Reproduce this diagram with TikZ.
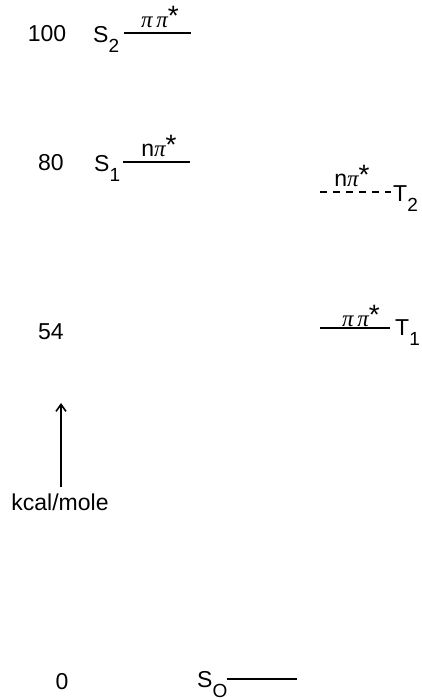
\documentclass[tikz,border=0pt]{standalone}
\usepackage{fontspec}
\setmainfont{Liberation Sans}
\newfontfamily\grkfont{Liberation Serif}
\usetikzlibrary{arrows.meta}

% state symbol with a lowered subscript
\newcommand{\stsym}[2]{#1\raisebox{-10pt}{\fontsize{19}{19}\selectfont #2}}
% italic pi and raised star for orbital labels
\newcommand{\pigr}{{\grkfont\itshape π}}
\newcommand{\excstar}{\raisebox{2pt}{\fontsize{28}{28}\selectfont *}}

\tikzset{
  lbl/.style={inner sep=0pt, font=\fontsize{23}{27}\selectfont},
  energy/.style={lbl, anchor=base},
  state/.style={lbl, anchor=base west},
  orb/.style={lbl, anchor=base},
  level/.style={line width=1.8pt},
  tripdash/.style={level, dash pattern=on 7pt off 6pt},
  axisarrow/.style={line width=1.6pt, -{Straight Barb[length=7pt,width=10pt,line width=1.6pt]}}
}

\begin{document}
\begin{tikzpicture}[x=1pt,y=-1pt]
\useasboundingbox (0,0) rectangle (422,700);

% energy scale (kcal/mole)
\node[energy] (e100) at (47,42) {100};
\node[energy] (e80)  at (51,171) {80};
\node[energy] (e54)  at (51,339) {54};
\node[energy] (e0)   at (62,689) {0};

% axis arrow and unit
\coordinate (axbot) at (61,487);
\coordinate (axtop) at (61,403);
\draw[axisarrow] (axbot) -- (axtop);
\node[lbl, anchor=base] (unit) at (60,510) {kcal/mole};

% singlet levels
\node[state] (S2) at (93,43) {\stsym{S}{2}};
\draw[level] (124,33) coordinate (s2a) -- (191,33) coordinate (s2b);
\node[orb] (o2) at (160,28) {\pigr\,\pigr\excstar};

\node[state] (S1) at (94,172) {\stsym{S}{1}};
\draw[level] (123,162) coordinate (s1a) -- (190,162) coordinate (s1b);
\node[orb] (o1) at (159,157) {n\pigr\excstar};

\node[state] (S0) at (197,687) {\stsym{S}{O}};
\draw[level] (227,679) coordinate (s0a) -- (297,679) coordinate (s0b);

% triplet levels
\draw[tripdash] (320,192) coordinate (t2a) -- (391,192) coordinate (t2b);
\node[orb] (o4) at (352,187) {n\pigr\excstar};
\node[state] (T2) at (393,202) {\stsym{T}{2}};

\draw[level] (320,328) coordinate (t1a) -- (390,328) coordinate (t1b);
\node[orb] (o3) at (361,326) {\pigr\,\pigr\excstar};
\node[state] (T1) at (395,335) {\stsym{T}{1}};

\end{tikzpicture}
\end{document}
